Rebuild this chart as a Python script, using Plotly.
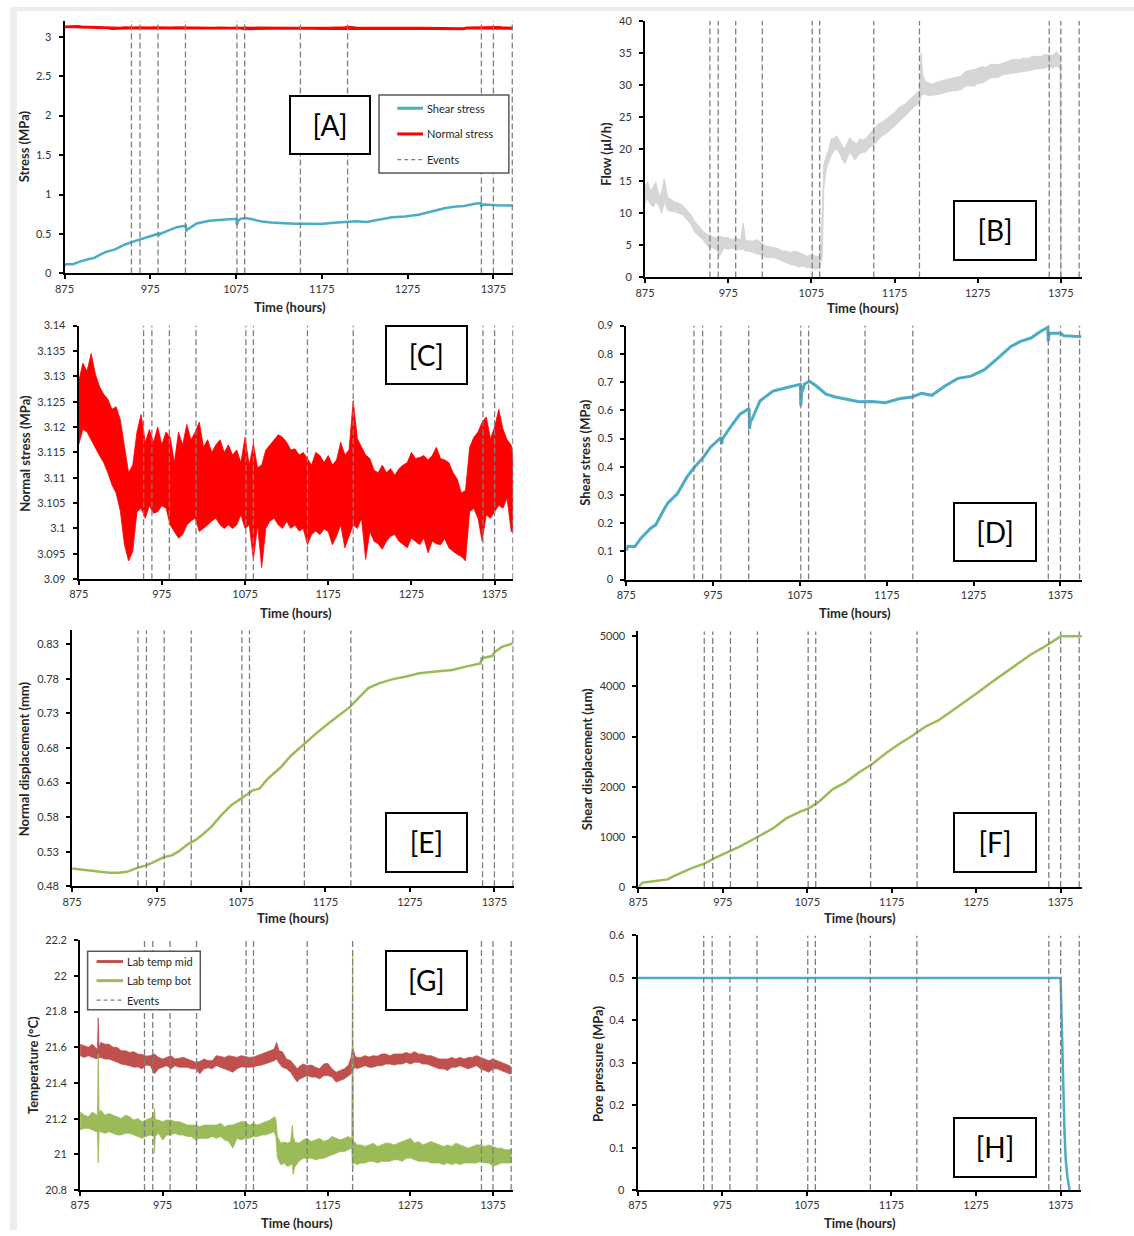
import plotly.graph_objects as go

FIG_W, FIG_H = 1134, 1236

# ---------------- data ----------------
EVENTS_H = [953, 963, 984, 1016, 1076, 1085, 1150, 1205, 1361, 1375, 1397]

SHEAR_T = [875, 877, 885, 892, 903.5, 909, 915, 922.5, 934, 945, 954, 964, 972, 984.5, 985, 986,
           995, 1006, 1016.5, 1017, 1018, 1020, 1029, 1044, 1059, 1075.5, 1076, 1077, 1080, 1086,
           1094, 1105, 1116, 1132, 1143, 1158, 1173.5, 1189, 1204, 1215, 1227, 1242, 1257, 1272,
           1287.5, 1303, 1318, 1329, 1341, 1352, 1360.5, 1361, 1362, 1364, 1375, 1379, 1399]
SHEAR_MPA = [0.103, 0.118, 0.117, 0.147, 0.183, 0.194, 0.229, 0.27, 0.305, 0.364, 0.40, 0.434,
             0.469, 0.504, 0.48, 0.50, 0.54, 0.586, 0.606, 0.534, 0.56, 0.569, 0.633, 0.668, 0.68,
             0.692, 0.616, 0.66, 0.692, 0.703, 0.686, 0.657, 0.647, 0.637, 0.63, 0.631, 0.627,
             0.641, 0.647, 0.66, 0.653, 0.686, 0.713, 0.721, 0.744, 0.785, 0.826, 0.844, 0.856,
             0.879, 0.894, 0.844, 0.87, 0.873, 0.873, 0.864, 0.861]

# normal stress: upper / lower extent of the noisy record
NORMAL_T = [875, 880, 885, 890, 895, 900, 905, 910, 915, 920, 925, 930, 935, 940, 945, 950, 955,
            960, 965, 970, 975, 980, 985, 990, 995, 1000, 1005, 1010, 1015, 1020, 1025, 1030,
            1035, 1040, 1045, 1050, 1055, 1060, 1065, 1070, 1075, 1080, 1085, 1090, 1095, 1100,
            1105, 1110, 1115, 1120, 1125, 1130, 1135, 1140, 1145, 1150, 1155, 1160, 1165, 1170,
            1175, 1180, 1185, 1190, 1195, 1200, 1205, 1210, 1215, 1220, 1225, 1230, 1235, 1240,
            1245, 1250, 1255, 1260, 1265, 1270, 1275, 1280, 1285, 1290, 1295, 1300, 1305, 1310,
            1315, 1320, 1325, 1330, 1335, 1340, 1345, 1350, 1355, 1360, 1365, 1370, 1375, 1380,
            1385, 1390, 1395, 1397]
NORMAL_HI = [3.129, 3.1326, 3.131, 3.1345, 3.1305, 3.128, 3.1265, 3.1255, 3.1235, 3.124,
             3.1215, 3.116, 3.111, 3.1125, 3.119, 3.1225, 3.117, 3.1195, 3.117, 3.12,
             3.1165, 3.119, 3.118, 3.113, 3.119, 3.1165, 3.1205, 3.1175, 3.119, 3.121,
             3.116, 3.1175, 3.115, 3.1165, 3.1175, 3.115, 3.1165, 3.1145, 3.1155, 3.113,
             3.118, 3.1125, 3.1167, 3.112, 3.1125, 3.1155, 3.1165, 3.1177, 3.1185, 3.118,
             3.117, 3.1155, 3.1157, 3.1145, 3.115, 3.1138, 3.1125, 3.115, 3.1144, 3.113,
             3.1144, 3.1125, 3.1135, 3.117, 3.1145, 3.1155, 3.1252, 3.1177, 3.116, 3.1145,
             3.1138, 3.1115, 3.111, 3.1125, 3.111, 3.1118, 3.1105, 3.1118, 3.1125, 3.113,
             3.115, 3.1138, 3.114, 3.1144, 3.1135, 3.1144, 3.116, 3.1138, 3.1135, 3.113,
             3.111, 3.1098, 3.107, 3.1075, 3.116, 3.118, 3.119, 3.121, 3.122, 3.1177,
             3.12, 3.1235, 3.1196, 3.1175, 3.1164, 3.1138]
NORMAL_LO = [3.1165, 3.1196, 3.119, 3.1177, 3.116, 3.1144, 3.113, 3.111, 3.1086, 3.107,
             3.1035, 3.0968, 3.0936, 3.0955, 3.1033, 3.104, 3.102, 3.1045, 3.103, 3.1033,
             3.1045, 3.104, 3.1007, 3.0995, 3.0981, 3.0988, 3.1007, 3.1015, 3.102, 3.0994,
             3.1, 3.1007, 3.1015, 3.102, 3.1007, 3.1, 3.1007, 3.1, 3.1007, 3.1027,
             3.1, 3.1007, 3.0939, 3.1007, 3.0923, 3.1, 3.1015, 3.102, 3.1007, 3.1,
             3.1014, 3.1, 3.1007, 3.0995, 3.1, 3.0968, 3.0988, 3.0995, 3.0988, 3.0999,
             3.0994, 3.0968, 3.0985, 3.1007, 3.0962, 3.0985, 3.1007, 3.1, 3.102, 3.0939,
             3.0994, 3.0975, 3.097, 3.0959, 3.0975, 3.0985, 3.0988, 3.0975, 3.0968, 3.0962,
             3.0981, 3.0975, 3.0968, 3.0981, 3.0952, 3.0975, 3.097, 3.0968, 3.098, 3.0962,
             3.0955, 3.0949, 3.0945, 3.0936, 3.1033, 3.104, 3.102, 3.0975, 3.1027, 3.102,
             3.1033, 3.1046, 3.104, 3.106, 3.0994, 3.0994]

# flow (µl/h): upper / lower extent
FLOW_T = [875, 878, 882, 885, 888, 892, 895, 898, 902, 906, 910, 915, 920, 925, 930, 935, 940,
          945, 950, 955, 960, 965, 970, 975, 980, 985, 990, 993, 996, 1000, 1005, 1010, 1015,
          1020, 1025, 1030, 1035, 1040, 1045, 1050, 1055, 1060, 1065, 1070, 1075, 1080, 1085,
          1087, 1088, 1090, 1093, 1096, 1099, 1102, 1105, 1109, 1112, 1115, 1118, 1121, 1124,
          1127, 1130, 1133, 1137, 1140, 1145, 1150, 1155, 1160, 1165, 1170, 1175, 1180, 1185,
          1190, 1195, 1200, 1203, 1205, 1207, 1209, 1212, 1216, 1220, 1225, 1230, 1235, 1240,
          1245, 1250, 1255, 1260, 1265, 1270, 1275, 1280, 1285, 1290, 1295, 1300, 1305, 1310,
          1315, 1320, 1325, 1330, 1335, 1340, 1345, 1350, 1355, 1360, 1365, 1370, 1374, 1375]
FLOW_HI = [14.1, 14.9, 13.4, 14.1, 14.9, 12.6, 13.4, 15.4, 12.6, 12.2, 11.8, 11.6, 11.3, 10.5,
           9.8, 8.7, 7.9, 7.2, 6.7, 6.4, 6.2, 6.4, 6.2, 6.2, 5.9, 6.2, 5.8, 8.5, 5.7, 5.7, 5.66,
           5.9, 5.4, 4.9, 4.8, 4.6, 4.5, 4.1, 4.1, 3.9, 4.1, 3.9, 3.6, 3.3, 3.6, 3.3, 3.3,
           6.2, 10.0, 17.5, 19.0, 20.0, 21.6, 21.6, 22.1, 21.1, 20.6, 20.0, 20.8, 21.8, 21.3,
           21.1, 20.8, 21.6, 21.4, 21.6, 22.4, 23.1, 23.9, 24.2, 24.7, 25.2, 25.7, 26.5, 26.8,
           27.3, 28.0, 28.5, 29.0, 29.3, 35.0, 31.5, 30.6, 30.3, 30.1, 30.4, 30.6, 30.8, 31.0,
           31.1, 31.2, 31.4, 32.1, 32.2, 32.4, 32.6, 32.9, 32.7, 33.2, 33.2, 33.2, 33.4, 33.7,
           33.9, 34.0, 33.9, 34.2, 34.1, 34.4, 34.5, 34.4, 34.7, 34.7, 34.6, 35.2, 34.5, 34.0]
FLOW_LO = [11.6, 12.3, 11.3, 11.0, 11.8, 11.05, 10.0, 11.8, 10.5, 10.3, 10.3, 10.0, 9.8, 9.0,
           8.3, 7.0, 6.4, 5.8, 4.9, 4.6, 4.4, 3.4, 4.6, 4.4, 4.6, 4.3, 4.4, 4.4, 4.1, 4.1, 3.86,
           3.6, 3.6, 3.1, 3.1, 3.1, 2.8, 2.6, 2.3, 2.0, 1.9, 1.6, 1.8, 1.5, 1.5, 1.3, 1.5,
           2.6, 3.0, 14.0, 17.0, 18.0, 19.0, 19.8, 20.0, 19.3, 18.5, 17.7, 18.5, 19.5, 19.0,
           18.3, 18.8, 19.3, 19.5, 19.5, 20.3, 20.6, 21.3, 22.1, 22.4, 22.9, 23.6, 24.2, 24.9,
           25.4, 26.2, 26.7, 27.0, 27.3, 28.3, 28.5, 28.6, 28.3, 28.3, 28.5, 28.6, 28.8, 29.0,
           29.1, 29.1, 29.3, 29.8, 29.9, 29.8, 30.2, 30.3, 30.6, 31.1, 31.1, 31.2, 31.6, 31.7,
           31.9, 31.9, 32.1, 32.1, 32.2, 32.3, 32.5, 32.6, 32.6, 32.9, 32.7, 32.9, 32.5, 0.0]

NDISP_T = [875, 887.5, 903, 918.8, 930.5, 940, 952, 961.8, 969.6, 983.3, 993, 1001, 1012.6,
           1020.4, 1028, 1040, 1051.7, 1063.4, 1075, 1081, 1089, 1096.8, 1106.5, 1122, 1134,
           1149.6, 1165, 1180.7, 1192.4, 1204, 1216, 1221.7, 1225.6, 1239, 1255, 1270.6, 1286,
           1305.8, 1325.3, 1341, 1358.6, 1359.8, 1372, 1376, 1384, 1396.5]
NDISP_MM = [0.5058, 0.5043, 0.5019, 0.4996, 0.4996, 0.501, 0.5067, 0.51, 0.5139, 0.522, 0.5248,
            0.5305, 0.5415, 0.5463, 0.5534, 0.5663, 0.583, 0.5973, 0.6068, 0.6116, 0.6188,
            0.6211, 0.6355, 0.6521, 0.6688, 0.6855, 0.7022, 0.7175, 0.7285, 0.7394, 0.7547,
            0.7618, 0.7666, 0.7737, 0.7795, 0.7833, 0.788, 0.7905, 0.7928, 0.7976, 0.8023,
            0.8095, 0.8129, 0.8191, 0.8262, 0.831]

SDISP_T = [875, 880, 886, 897.7, 909.4, 917, 929, 938.8, 952.5, 964, 980, 995.5, 1015, 1034.6,
           1050, 1066, 1077.7, 1089.4, 1105, 1120.7, 1136.4, 1152, 1167.6, 1183.3, 1199, 1214.6,
           1230.2, 1245.9, 1261.5, 1277, 1292.8, 1308.5, 1324, 1339.8, 1355.4, 1375, 1400]
SDISP_UM = [0, 86, 99, 118, 151, 217, 303, 382, 461, 566, 691, 809, 987, 1171, 1368, 1500, 1579,
            1711, 1947, 2092, 2289, 2454, 2664, 2849, 3013, 3197, 3322, 3507, 3684, 3882, 4079,
            4263, 4461, 4638, 4789, 5000, 5000]

# lab temperatures (°C): upper / lower extent
TMID_T = [875, 880, 885, 890, 895, 896, 897, 898, 900, 905, 910, 915, 920, 925, 930, 935, 940,
          945, 950, 955, 960, 965, 970, 975, 980, 985, 990, 995, 1000, 1005, 1010, 1015, 1020,
          1025, 1030, 1035, 1040, 1045, 1050, 1055, 1060, 1065, 1070, 1075, 1080, 1085, 1090,
          1095, 1100, 1105, 1110, 1113, 1116, 1120, 1125, 1130, 1135, 1138, 1140, 1145, 1150,
          1155, 1160, 1165, 1170, 1175, 1180, 1185, 1190, 1195, 1200, 1203, 1205, 1208, 1210,
          1215, 1220, 1225, 1230, 1235, 1240, 1245, 1250, 1255, 1260, 1265, 1270, 1275, 1280,
          1285, 1290, 1295, 1300, 1305, 1310, 1315, 1320, 1325, 1330, 1335, 1340, 1345, 1350,
          1355, 1360, 1365, 1370, 1375, 1380, 1385, 1390, 1395, 1397]
TMID_HI = [21.617, 21.608, 21.600, 21.617, 21.590, 21.595, 21.765, 21.600, 21.627, 21.617,
           21.617, 21.600, 21.599, 21.580, 21.580, 21.571, 21.575, 21.562, 21.560, 21.550,
           21.553, 21.562, 21.543, 21.534, 21.545, 21.553, 21.534, 21.540, 21.543, 21.534,
           21.525, 21.516, 21.520, 21.534, 21.525, 21.525, 21.553, 21.550, 21.543, 21.553,
           21.550, 21.543, 21.553, 21.550, 21.543, 21.545, 21.553, 21.562, 21.571, 21.580,
           21.590, 21.627, 21.580, 21.575, 21.534, 21.525, 21.497, 21.479, 21.490, 21.506,
           21.497, 21.500, 21.488, 21.479, 21.506, 21.510, 21.479, 21.460, 21.470, 21.479,
           21.500, 21.540, 21.600, 21.553, 21.543, 21.543, 21.553, 21.545, 21.553, 21.550,
           21.562, 21.562, 21.553, 21.562, 21.562, 21.562, 21.571, 21.562, 21.575, 21.562,
           21.562, 21.553, 21.553, 21.543, 21.534, 21.534, 21.534, 21.543, 21.534, 21.543,
           21.534, 21.543, 21.543, 21.553, 21.545, 21.534, 21.525, 21.534, 21.525, 21.516,
           21.506, 21.497, 21.488]
TMID_LO = [21.553, 21.543, 21.553, 21.543, 21.535, 21.540, 21.540, 21.540, 21.543, 21.534,
           21.534, 21.525, 21.516, 21.506, 21.500, 21.497, 21.488, 21.490, 21.479, 21.500,
           21.497, 21.451, 21.480, 21.488, 21.497, 21.479, 21.497, 21.488, 21.490, 21.488,
           21.479, 21.479, 21.451, 21.479, 21.485, 21.479, 21.497, 21.490, 21.479, 21.470,
           21.460, 21.479, 21.490, 21.488, 21.488, 21.490, 21.497, 21.500, 21.506, 21.516,
           21.525, 21.534, 21.510, 21.488, 21.479, 21.460, 21.423, 21.405, 21.420, 21.433,
           21.442, 21.433, 21.433, 21.423, 21.440, 21.442, 21.433, 21.405, 21.414, 21.423,
           21.440, 21.450, 21.470, 21.488, 21.479, 21.490, 21.497, 21.488, 21.488, 21.497,
           21.497, 21.506, 21.506, 21.500, 21.506, 21.506, 21.516, 21.506, 21.516, 21.516,
           21.506, 21.506, 21.497, 21.488, 21.479, 21.479, 21.470, 21.488, 21.488, 21.497,
           21.488, 21.479, 21.488, 21.497, 21.479, 21.470, 21.460, 21.479, 21.479, 21.470,
           21.460, 21.451, 21.451]

TBOT_T = [875, 880, 885, 890, 895, 896, 897, 898, 900, 905, 910, 915, 920, 925, 930, 935, 940,
          945, 950, 955, 960, 964, 965, 966, 970, 975, 980, 985, 990, 995, 1000, 1005, 1010,
          1015, 1020, 1025, 1030, 1035, 1040, 1045, 1050, 1055, 1060, 1065, 1070, 1075, 1080,
          1085, 1090, 1095, 1100, 1105, 1110, 1112, 1114, 1118, 1122, 1126, 1130, 1132, 1133,
          1135, 1140, 1145, 1150, 1155, 1160, 1165, 1170, 1175, 1180, 1185, 1190, 1195, 1200,
          1203, 1204, 1205, 1206, 1208, 1210, 1215, 1220, 1225, 1230, 1235, 1240, 1245, 1250,
          1255, 1260, 1265, 1270, 1275, 1280, 1285, 1290, 1295, 1300, 1305, 1310, 1315, 1320,
          1325, 1330, 1335, 1340, 1345, 1350, 1355, 1360, 1365, 1370, 1375, 1380, 1385, 1390,
          1395, 1397]
TBOT_HI = [21.238, 21.220, 21.211, 21.238, 21.220, 21.225, 21.562, 21.230, 21.248, 21.220,
           21.229, 21.220, 21.211, 21.201, 21.220, 21.211, 21.192, 21.201, 21.183, 21.192,
           21.201, 21.211, 21.257, 21.195, 21.192, 21.183, 21.192, 21.192, 21.183, 21.183,
           21.174, 21.164, 21.164, 21.164, 21.155, 21.164, 21.164, 21.164, 21.164, 21.174,
           21.155, 21.164, 21.164, 21.174, 21.183, 21.183, 21.164, 21.174, 21.164, 21.174,
           21.183, 21.192, 21.211, 21.201, 21.100, 21.063, 21.070, 21.063, 21.072, 21.164,
           21.100, 21.070, 21.063, 21.081, 21.090, 21.072, 21.081, 21.090, 21.072, 21.081,
           21.100, 21.090, 21.081, 21.090, 21.100, 21.090, 21.090, 22.135, 21.070, 21.070,
           21.053, 21.053, 21.044, 21.053, 21.063, 21.044, 21.053, 21.063, 21.063, 21.053,
           21.063, 21.072, 21.081, 21.090, 21.063, 21.072, 21.053, 21.063, 21.072, 21.063,
           21.053, 21.044, 21.053, 21.044, 21.063, 21.053, 21.044, 21.035, 21.044, 21.053,
           21.053, 21.044, 21.053, 21.044, 21.035, 21.035, 21.026, 21.026, 21.026]
TBOT_LO = [21.137, 21.146, 21.146, 21.137, 21.127, 21.130, 20.952, 21.130, 21.127, 21.118,
           21.127, 21.118, 21.109, 21.109, 21.118, 21.118, 21.109, 21.100, 21.090, 21.100,
           21.109, 21.100, 21.007, 21.100, 21.118, 21.081, 21.109, 21.109, 21.118, 21.109,
           21.109, 21.100, 21.100, 21.081, 21.090, 21.090, 21.090, 21.100, 21.090, 21.100,
           21.081, 21.072, 21.035, 21.090, 21.081, 21.090, 21.090, 21.100, 21.100, 21.109,
           21.109, 21.118, 21.127, 21.100, 20.980, 20.942, 20.950, 20.933, 20.940, 20.950,
           20.887, 20.930, 20.961, 20.979, 20.979, 20.979, 20.970, 20.975, 20.979, 20.990,
           20.998, 21.007, 21.016, 21.016, 21.026, 21.035, 21.030, 20.915, 20.950, 20.952,
           20.942, 20.952, 20.952, 20.961, 20.961, 20.952, 20.961, 20.961, 20.961, 20.970,
           20.970, 20.961, 20.979, 20.980, 20.970, 20.961, 20.961, 20.961, 20.952, 20.952,
           20.952, 20.942, 20.952, 20.942, 20.952, 20.942, 20.952, 20.952, 20.952, 20.952,
           20.961, 20.952, 20.952, 20.933, 20.942, 20.952, 20.952, 20.952, 20.952]

PORE_T = [875, 1375, 1375.8, 1377, 1378.1, 1379.5, 1380.9, 1383, 1385.5]
PORE_MPA = [0.5, 0.5, 0.43, 0.33, 0.23, 0.14, 0.074, 0.03, 0.0]

# ---------------- styling ----------------
BLUE, RED, GREEN = "#4bacc6", "#ff0000", "#9bbb59"
BRICK, LIGHTGREY, EVENTGREY = "#c0504d", "#d6d6d6", "#7f7f7f"
FONT = "Lato, 'Open Sans', sans-serif"
EVENT_DASH = "6px,3px"


def px(x):
    return x / FIG_W


def py(y):
    return 1 - y / FIG_H


# subplot frames in pixels: (left, right), (top, bottom), x end, y range, tick spacing
PANELS = [
    dict(tag="A", x=(55, 507.6), y=(14, 269.3), xend=1398, yr=(0, 3.2), t0=0, dt=0.5),
    dict(tag="B", x=(640.7, 1082), y=(14, 273.3), xend=1401, yr=(0, 40), t0=0, dt=5),
    dict(tag="C", x=(69.3, 507.8), y=(322, 578.3), xend=1397.5, yr=(3.09, 3.14), t0=3.09, dt=0.005),
    dict(tag="D", x=(621.7, 1081.7), y=(322, 578.7), xend=1400, yr=(0, 0.9), t0=0, dt=0.1),
    dict(tag="E", x=(62.7, 508.3), y=(630, 888.7), xend=1398, yr=(0.48, 0.85), t0=0.48, dt=0.05),
    dict(tag="F", x=(634, 1081.7), y=(631, 889.3), xend=1400.5, yr=(0, 5100), t0=0, dt=1000),
    dict(tag="G", x=(70.7, 507.3), y=(943, 1195.7), xend=1399, yr=(20.8, 22.2), t0=20.8, dt=0.2),
    dict(tag="H", x=(633.3, 1081), y=(938.3, 1195.7), xend=1399.6, yr=(0, 0.6), t0=0, dt=0.1),
]

# axis titles: text, centre x, centre y (pixels)
Y_TITLES = [("Stress (MPa)", 19, 141), ("Flow (µl/h)", 606.7, 148),
            ("Normal stress (MPa)", 20, 450.7), ("Shear stress (MPa)", 585, 450.7),
            ("Normal displacement (mm)", 19, 759.5), ("Shear displacement (µm)", 587.3, 760),
            ("Temperature (°C)", 28.3, 1069.3), ("Pore pressure (MPa)", 598.3, 1068.3)]
X_TITLE_POS = [(282, 303), (861, 304), (289, 612.7), (852.3, 612.7),
               (286, 920.7), (857.5, 920.7), (289.5, 1229), (857.5, 1229)]

# panel tag boxes: left, top, right, bottom (pixels)
TAG_BOXES = [(282.3, 89, 364.3, 149), (951.7, 196, 1035.7, 256.7), (379, 321.7, 461.7, 381.7),
             (951.7, 501, 1035.7, 561), (379, 814.3, 461.7, 875), (951.7, 814.3, 1035.7, 875),
             (379, 954, 461.7, 1014.7), (951.7, 1122.7, 1035.7, 1183.3)]

fig = go.Figure()
layout = dict(width=FIG_W, height=FIG_H, margin=dict(l=0, r=0, t=0, b=0),
              paper_bgcolor="white", plot_bgcolor="white", showlegend=False,
              font=dict(family=FONT, color="#333333"))

axis_common = dict(showline=True, linecolor="black", linewidth=2, ticks="outside",
                   ticklen=4, tickwidth=1.5, tickcolor="black", showgrid=False,
                   zeroline=False, exponentformat="none", fixedrange=True,
                   tickfont=dict(family=FONT, size=11, color="#333333"))

for i, p in enumerate(PANELS):
    n = "" if i == 0 else str(i + 1)
    layout["xaxis" + n] = dict(axis_common, domain=[px(p["x"][0]), px(p["x"][1])],
                               range=[875, p["xend"]], anchor="y" + n,
                               tickmode="linear", tick0=875, dtick=100)
    layout["yaxis" + n] = dict(axis_common, domain=[py(p["y"][1]), py(p["y"][0])],
                               range=list(p["yr"]), anchor="x" + n,
                               tickmode="linear", tick0=p["t0"], dtick=p["dt"],
                               ticklabelstandoff=5)

fig.update_layout(**layout)


def ax(i):
    n = "" if i == 0 else str(i + 1)
    return dict(xaxis="x" + n, yaxis="y" + n)


def line(i, t, v, color, width):
    fig.add_trace(go.Scatter(x=t, y=v, mode="lines", line=dict(color=color, width=width),
                             hoverinfo="skip", **ax(i)))


def band(i, t, hi, lo, color, width=1):
    xs = list(t) + list(t)[::-1]
    ys = list(hi) + list(lo)[::-1]
    fig.add_trace(go.Scatter(x=xs, y=ys, mode="lines", fill="toself", fillcolor=color,
                             line=dict(color=color, width=width), hoverinfo="skip", **ax(i)))


# [A] stresses
band(0, NORMAL_T, NORMAL_HI, NORMAL_LO, RED, 1.8)
line(0, SHEAR_T, SHEAR_MPA, BLUE, 2.5)
# [B] flow
band(1, FLOW_T, FLOW_HI, FLOW_LO, LIGHTGREY, 1)
# [C] normal stress
band(2, NORMAL_T, NORMAL_HI, NORMAL_LO, RED, 0.8)
# [D] shear stress
line(3, SHEAR_T, SHEAR_MPA, BLUE, 3)
# [E] normal displacement
line(4, NDISP_T, NDISP_MM, GREEN, 2.5)
# [F] shear displacement
line(5, SDISP_T, SDISP_UM, GREEN, 2.5)
# [G] lab temperatures
band(6, TMID_T, TMID_HI, TMID_LO, BRICK, 0.8)
band(6, TBOT_T, TBOT_HI, TBOT_LO, GREEN, 0.8)
# [H] pore pressure
line(7, PORE_T, PORE_MPA, BLUE, 2.5)

# event markers in every panel
for i, p in enumerate(PANELS):
    ex, ey = [], []
    for e in EVENTS_H:
        ex += [e, e, None]
        ey += [p["yr"][0], p["yr"][1], None]
    fig.add_trace(go.Scatter(x=ex, y=ey, mode="lines",
                             line=dict(color=EVENTGREY, width=1.3, dash=EVENT_DASH),
                             hoverinfo="skip", **ax(i)))

annotations = []
shapes = []

for (txt, cx, cy) in Y_TITLES:
    annotations.append(dict(text="<b>%s</b>" % txt, x=px(cx), y=py(cy), xref="paper",
                            yref="paper", showarrow=False, textangle=-90,
                            xanchor="center", yanchor="middle", xshift=-5,
                            font=dict(family=FONT, size=13, color="#262626")))
for (cx, cy) in X_TITLE_POS:
    annotations.append(dict(text="<b>Time (hours)</b>", x=px(cx), y=py(cy), xref="paper",
                            yref="paper", showarrow=False, xanchor="center",
                            yanchor="middle",
                            font=dict(family=FONT, size=13, color="#262626")))

for p, (l, t, r, b) in zip(PANELS, TAG_BOXES):
    annotations.append(dict(text="[%s]" % p["tag"], x=px((l + r) / 2), y=py((t + b) / 2),
                            xref="paper", yref="paper", showarrow=False,
                            xanchor="center", yanchor="middle",
                            width=r - l - 4, height=b - t - 4, align="center",
                            valign="middle", bgcolor="white", bordercolor="black",
                            borderwidth=2, borderpad=0,
                            font=dict(family=FONT, size=28, color="black")))


def legend_box(box, sample_x, text_x, rows):
    l, t, r, b = box
    shapes.append(dict(type="rect", xref="paper", yref="paper", x0=px(l), x1=px(r),
                       y0=py(b), y1=py(t), fillcolor="white",
                       line=dict(color="#595959", width=1.5), layer="above"))
    for (label, color, dash, width, yy) in rows:
        shapes.append(dict(type="line", xref="paper", yref="paper", x0=px(sample_x[0]),
                           x1=px(sample_x[1]), y0=py(yy), y1=py(yy),
                           line=dict(color=color, width=width, dash=dash), layer="above"))
        annotations.append(dict(text=label, x=px(text_x), y=py(yy), xref="paper",
                                yref="paper", showarrow=False, xanchor="left",
                                yanchor="middle",
                                font=dict(family=FONT, size=11, color="#262626")))


legend_box((372.3, 89, 503.3, 167.7), (390.7, 416.7), 418.5,
           [("Shear stress", BLUE, "solid", 3, 102.3),
            ("Normal stress", RED, "solid", 3, 128.3),
            ("Events", EVENTGREY, "4px,3px", 1.3, 154.3)])
legend_box((78.3, 954.3, 192, 1013.3), (87.3, 114), 116,
           [("Lab temp mid", BRICK, "solid", 3, 964.7),
            ("Lab temp bot", GREEN, "solid", 3, 984),
            ("Events", EVENTGREY, "4px,3px", 1.3, 1003.7)])

# page backdrop strips
shapes.insert(0, dict(type="rect", xref="paper", yref="paper", x0=0, x1=px(7), y0=0, y1=1,
                      fillcolor="#ededea", line=dict(width=0), layer="below"))
shapes.insert(0, dict(type="rect", xref="paper", yref="paper", x0=0, x1=1, y0=py(4), y1=1,
                      fillcolor="#ededea", line=dict(width=0), layer="below"))

fig.update_layout(annotations=annotations, shapes=shapes)
fig.write_html("out.html")
